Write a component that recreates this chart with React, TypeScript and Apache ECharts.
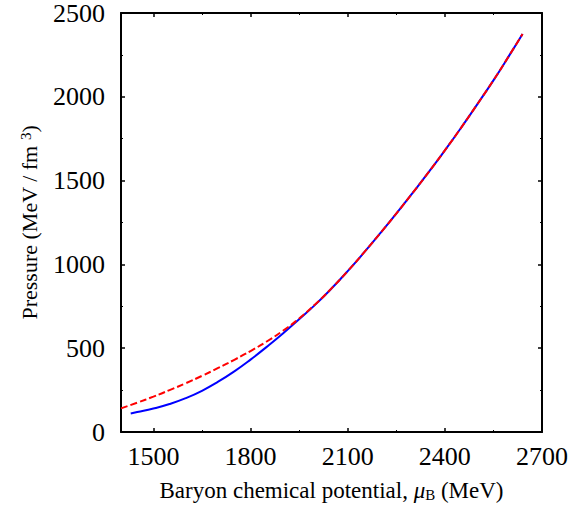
import React, { useEffect, useRef } from "react";
import * as echarts from "echarts";

const xBlue = [1430, 1450, 1500, 1550, 1600, 1650, 1700, 1750, 1800, 1850, 1900, 1950, 2000, 2050, 2100, 2150, 2200, 2250, 2300, 2350, 2400, 2450, 2500, 2550, 2600, 2640];
const yBlue = [111, 119, 140, 167, 202, 246, 300, 362, 432, 508, 588, 673, 760, 856, 960, 1070, 1185, 1303, 1425, 1550, 1680, 1815, 1955, 2098, 2250, 2375];

const xRed = [1400, 1450, 1500, 1550, 1600, 1650, 1700, 1750, 1800, 1850, 1900, 1950, 2000, 2050, 2100, 2150, 2200, 2250, 2300, 2350, 2400, 2450, 2500, 2550, 2600, 2640];
const yRed = [141, 175, 211, 250, 291, 335, 382, 431, 483, 540, 604, 677, 762, 857, 960, 1070, 1185, 1303, 1425, 1550, 1680, 1815, 1955, 2098, 2250, 2375];

const xMajorTicks = [1500, 1800, 2100, 2400, 2700];
const xMinorTicks = [1650, 1950, 2250, 2550];
const xMin = 1400;
const xMax = 2700;
const yMin = 0;
const yMax = 2500;
const yInterval = 500;

const FONT = "'Liberation Serif', 'DejaVu Serif', serif";

export default function App() {
  const ref = useRef<HTMLDivElement>(null);
  useEffect(() => {
    if (!ref.current) return;
    const chart = echarts.init(ref.current, undefined, { renderer: "svg" });
    const line = { show: true, lineStyle: { color: "#000", width: 2 } };
    const noLine = { show: false };
    const fmt = (v: number) => String(v);
    const baseX = { type: "value", min: xMin, max: xMax, splitLine: { show: false } };
    chart.setOption({
      animation: false,
      backgroundColor: "#fff",
      grid: { left: 121, right: 31, top: 13, bottom: 80, containLabel: false },
      xAxis: [
        {
          ...baseX,
          position: "bottom",
          axisLine: line,
          axisTick: { show: true, inside: true, length: 4, customValues: xMajorTicks, lineStyle: { color: "#000", width: 1.5 } },
          axisLabel: { show: true, customValues: xMajorTicks, formatter: fmt, margin: 11, color: "#000", fontFamily: FONT, fontSize: 26 },
          name: "Baryon chemical potential, {mu|μ}{sub|B} (MeV)",
          nameLocation: "middle",
          nameGap: 47,
          nameTextStyle: {
            color: "#000",
            fontFamily: FONT,
            fontSize: 23,
            rich: {
              mu: { fontFamily: FONT, fontSize: 23, fontStyle: "italic", color: "#000" },
              sub: { fontFamily: FONT, fontSize: 15, verticalAlign: "bottom", color: "#000", padding: [7, 0, 0, 0] },
            },
          },
        },
        {
          ...baseX,
          position: "bottom",
          axisLine: noLine,
          axisTick: { show: true, inside: true, length: 2, customValues: xMinorTicks, lineStyle: { color: "#000", width: 1 } },
          axisLabel: { show: false },
        },
        {
          ...baseX,
          position: "top",
          axisLine: line,
          axisTick: { show: true, inside: true, length: 4, customValues: xMajorTicks, lineStyle: { color: "#000", width: 1.5 } },
          axisLabel: { show: false },
        },
        {
          ...baseX,
          position: "top",
          axisLine: noLine,
          axisTick: { show: true, inside: true, length: 2, customValues: xMinorTicks, lineStyle: { color: "#000", width: 1 } },
          axisLabel: { show: false },
        },
      ],
      yAxis: [
        {
          type: "value",
          min: yMin,
          max: yMax,
          interval: yInterval,
          position: "left",
          splitLine: { show: false },
          axisLine: line,
          axisTick: { show: true, inside: true, length: 4, lineStyle: { color: "#000", width: 1.5 } },
          minorTick: { show: true, splitNumber: 2, length: 2, lineStyle: { color: "#000", width: 1 } },
          axisLabel: { show: true, formatter: fmt, margin: 16, color: "#000", fontFamily: FONT, fontSize: 26 },
          name: "Pressure (MeV / fm {sup|3})",
          nameLocation: "middle",
          nameRotate: 90,
          nameGap: 80,
          nameTextStyle: {
            color: "#000",
            fontFamily: FONT,
            fontSize: 22,
            rich: {
              sup: { fontFamily: FONT, fontSize: 15, verticalAlign: "top", color: "#000", padding: [0, 0, 8, 0] },
            },
          },
        },
        {
          type: "value",
          min: yMin,
          max: yMax,
          interval: yInterval,
          position: "right",
          splitLine: { show: false },
          axisLine: line,
          axisTick: { show: true, inside: true, length: 4, lineStyle: { color: "#000", width: 1.5 } },
          minorTick: { show: true, splitNumber: 2, length: 2, lineStyle: { color: "#000", width: 1 } },
          axisLabel: { show: false },
        },
      ],
      series: [
        {
          type: "line",
          xAxisIndex: 0,
          yAxisIndex: 0,
          data: xBlue.map((x, i) => [x, yBlue[i]]),
          smooth: true,
          showSymbol: false,
          lineStyle: { color: "#0000ff", width: 2 },
        },
        {
          type: "line",
          xAxisIndex: 0,
          yAxisIndex: 0,
          data: xRed.map((x, i) => [x, yRed[i]]),
          smooth: true,
          showSymbol: false,
          lineStyle: { color: "#ff0000", width: 2, type: [7, 3] },
        },
      ],
    });
    return () => chart.dispose();
  }, []);
  return <div ref={ref} style={{ position: "fixed", left: 0, top: 0, width: 573, height: 512 }} />;
}
